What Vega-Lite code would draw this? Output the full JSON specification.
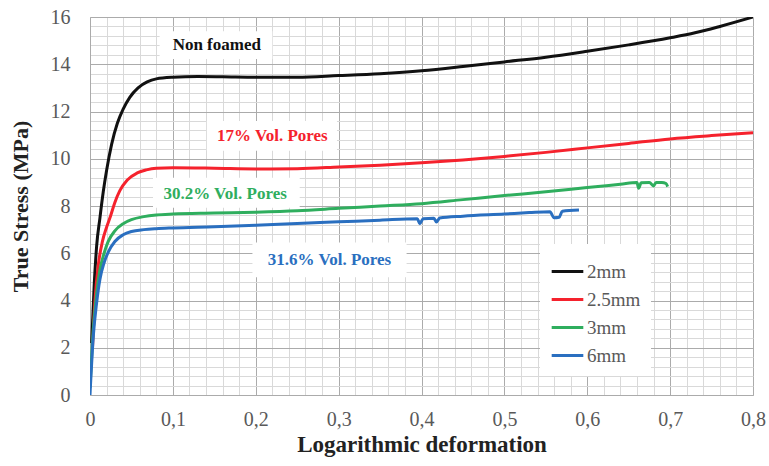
{
  "$schema": "https://vega.github.io/schema/vega-lite/v6.json",
  "width": 663,
  "height": 378,
  "autosize": {"type": "none"},
  "padding": {"left": 90, "top": 17, "right": 16, "bottom": 71},
  "background": "white",
  "config": {
    "view": {"stroke": null},
    "font": "Liberation Serif"
  },
  "datasets": {
    "curves": [
      {"series": "2mm", "strain": 0.002, "stress": 2.2},
      {"series": "2mm", "strain": 0.005, "stress": 4.6},
      {"series": "2mm", "strain": 0.008, "stress": 6.3},
      {"series": "2mm", "strain": 0.012, "stress": 7.5},
      {"series": "2mm", "strain": 0.016, "stress": 8.6},
      {"series": "2mm", "strain": 0.02, "stress": 9.5},
      {"series": "2mm", "strain": 0.026, "stress": 10.6},
      {"series": "2mm", "strain": 0.033, "stress": 11.5},
      {"series": "2mm", "strain": 0.04, "stress": 12.1},
      {"series": "2mm", "strain": 0.048, "stress": 12.6},
      {"series": "2mm", "strain": 0.058, "stress": 13.0},
      {"series": "2mm", "strain": 0.069, "stress": 13.25},
      {"series": "2mm", "strain": 0.08, "stress": 13.38},
      {"series": "2mm", "strain": 0.1, "stress": 13.45},
      {"series": "2mm", "strain": 0.13, "stress": 13.48},
      {"series": "2mm", "strain": 0.16, "stress": 13.47},
      {"series": "2mm", "strain": 0.2, "stress": 13.45},
      {"series": "2mm", "strain": 0.25, "stress": 13.45},
      {"series": "2mm", "strain": 0.3, "stress": 13.52},
      {"series": "2mm", "strain": 0.35, "stress": 13.6},
      {"series": "2mm", "strain": 0.4, "stress": 13.72},
      {"series": "2mm", "strain": 0.45, "stress": 13.9},
      {"series": "2mm", "strain": 0.5, "stress": 14.1},
      {"series": "2mm", "strain": 0.55, "stress": 14.3},
      {"series": "2mm", "strain": 0.6, "stress": 14.55},
      {"series": "2mm", "strain": 0.65, "stress": 14.82},
      {"series": "2mm", "strain": 0.7, "stress": 15.12},
      {"series": "2mm", "strain": 0.73, "stress": 15.33},
      {"series": "2mm", "strain": 0.76, "stress": 15.6},
      {"series": "2mm", "strain": 0.8, "stress": 16.0},
      {"series": "2.5mm", "strain": 0.003, "stress": 2.0},
      {"series": "2.5mm", "strain": 0.006, "stress": 4.0},
      {"series": "2.5mm", "strain": 0.01, "stress": 5.5},
      {"series": "2.5mm", "strain": 0.015, "stress": 6.5},
      {"series": "2.5mm", "strain": 0.02, "stress": 7.1},
      {"series": "2.5mm", "strain": 0.025, "stress": 7.6},
      {"series": "2.5mm", "strain": 0.03, "stress": 8.15},
      {"series": "2.5mm", "strain": 0.036, "stress": 8.65},
      {"series": "2.5mm", "strain": 0.045, "stress": 9.1},
      {"series": "2.5mm", "strain": 0.057, "stress": 9.4},
      {"series": "2.5mm", "strain": 0.068, "stress": 9.53},
      {"series": "2.5mm", "strain": 0.08, "stress": 9.6},
      {"series": "2.5mm", "strain": 0.1, "stress": 9.62},
      {"series": "2.5mm", "strain": 0.15, "stress": 9.6},
      {"series": "2.5mm", "strain": 0.2, "stress": 9.57},
      {"series": "2.5mm", "strain": 0.25, "stress": 9.58},
      {"series": "2.5mm", "strain": 0.3, "stress": 9.65},
      {"series": "2.5mm", "strain": 0.35, "stress": 9.73},
      {"series": "2.5mm", "strain": 0.4, "stress": 9.83},
      {"series": "2.5mm", "strain": 0.45, "stress": 9.95},
      {"series": "2.5mm", "strain": 0.5, "stress": 10.1},
      {"series": "2.5mm", "strain": 0.55, "stress": 10.27},
      {"series": "2.5mm", "strain": 0.6, "stress": 10.46},
      {"series": "2.5mm", "strain": 0.65, "stress": 10.65},
      {"series": "2.5mm", "strain": 0.7, "stress": 10.84},
      {"series": "2.5mm", "strain": 0.75, "stress": 10.98},
      {"series": "2.5mm", "strain": 0.8, "stress": 11.1},
      {"series": "3mm", "strain": 0.0, "stress": 0.3},
      {"series": "3mm", "strain": 0.004, "stress": 2.8},
      {"series": "3mm", "strain": 0.008, "stress": 4.3},
      {"series": "3mm", "strain": 0.012, "stress": 5.3},
      {"series": "3mm", "strain": 0.017, "stress": 6.0},
      {"series": "3mm", "strain": 0.022, "stress": 6.5},
      {"series": "3mm", "strain": 0.03, "stress": 6.95},
      {"series": "3mm", "strain": 0.04, "stress": 7.25},
      {"series": "3mm", "strain": 0.05, "stress": 7.42},
      {"series": "3mm", "strain": 0.065, "stress": 7.55},
      {"series": "3mm", "strain": 0.08, "stress": 7.62},
      {"series": "3mm", "strain": 0.1, "stress": 7.66},
      {"series": "3mm", "strain": 0.15, "stress": 7.7},
      {"series": "3mm", "strain": 0.2, "stress": 7.74},
      {"series": "3mm", "strain": 0.25, "stress": 7.8},
      {"series": "3mm", "strain": 0.3, "stress": 7.9},
      {"series": "3mm", "strain": 0.35, "stress": 8.0},
      {"series": "3mm", "strain": 0.4, "stress": 8.1},
      {"series": "3mm", "strain": 0.45, "stress": 8.27},
      {"series": "3mm", "strain": 0.5, "stress": 8.44},
      {"series": "3mm", "strain": 0.55, "stress": 8.6},
      {"series": "3mm", "strain": 0.6, "stress": 8.78},
      {"series": "3mm", "strain": 0.64, "stress": 8.92},
      {"series": "3mm", "strain": 0.66, "stress": 8.99},
      {"series": "3mm", "strain": 0.662, "stress": 8.75},
      {"series": "3mm", "strain": 0.665, "stress": 8.98},
      {"series": "3mm", "strain": 0.675, "stress": 9.0},
      {"series": "3mm", "strain": 0.68, "stress": 8.85},
      {"series": "3mm", "strain": 0.683, "stress": 9.0},
      {"series": "3mm", "strain": 0.69, "stress": 9.0},
      {"series": "3mm", "strain": 0.695, "stress": 8.95},
      {"series": "3mm", "strain": 0.697, "stress": 8.82},
      {"series": "6mm", "strain": 0.0, "stress": 0.0},
      {"series": "6mm", "strain": 0.004, "stress": 2.5},
      {"series": "6mm", "strain": 0.008, "stress": 3.9},
      {"series": "6mm", "strain": 0.012, "stress": 4.9},
      {"series": "6mm", "strain": 0.017, "stress": 5.6},
      {"series": "6mm", "strain": 0.022, "stress": 6.05},
      {"series": "6mm", "strain": 0.03, "stress": 6.5},
      {"series": "6mm", "strain": 0.04, "stress": 6.78},
      {"series": "6mm", "strain": 0.05, "stress": 6.92},
      {"series": "6mm", "strain": 0.065, "stress": 7.0},
      {"series": "6mm", "strain": 0.08, "stress": 7.04},
      {"series": "6mm", "strain": 0.1, "stress": 7.07},
      {"series": "6mm", "strain": 0.15, "stress": 7.12},
      {"series": "6mm", "strain": 0.2, "stress": 7.18},
      {"series": "6mm", "strain": 0.25, "stress": 7.26},
      {"series": "6mm", "strain": 0.3, "stress": 7.33},
      {"series": "6mm", "strain": 0.35, "stress": 7.4},
      {"series": "6mm", "strain": 0.395, "stress": 7.46},
      {"series": "6mm", "strain": 0.398, "stress": 7.25},
      {"series": "6mm", "strain": 0.402, "stress": 7.46},
      {"series": "6mm", "strain": 0.415, "stress": 7.48},
      {"series": "6mm", "strain": 0.418, "stress": 7.32},
      {"series": "6mm", "strain": 0.422, "stress": 7.49},
      {"series": "6mm", "strain": 0.45, "stress": 7.57},
      {"series": "6mm", "strain": 0.5, "stress": 7.66},
      {"series": "6mm", "strain": 0.53, "stress": 7.72},
      {"series": "6mm", "strain": 0.555, "stress": 7.76},
      {"series": "6mm", "strain": 0.56, "stress": 7.5},
      {"series": "6mm", "strain": 0.566, "stress": 7.52},
      {"series": "6mm", "strain": 0.57, "stress": 7.78},
      {"series": "6mm", "strain": 0.59, "stress": 7.83}
    ],
    "labels": [
      {"series": "2mm", "text": "Non foamed", "x": 0.153, "y": 14.81, "x1": 0.084, "x2": 0.22, "y1": 14.22, "y2": 15.4},
      {"series": "2.5mm", "text": "17% Vol. Pores", "x": 0.22, "y": 10.97, "x1": 0.141, "x2": 0.298, "y1": 10.34, "y2": 11.6},
      {"series": "3mm", "text": "30.2% Vol. Pores", "x": 0.163, "y": 8.52, "x1": 0.076, "x2": 0.253, "y1": 7.93, "y2": 9.2},
      {"series": "6mm", "text": "31.6% Vol. Pores", "x": 0.289, "y": 5.7, "x1": 0.196, "x2": 0.382, "y1": 4.98, "y2": 6.46}
    ]
  },
  "resolve": {"axis": {"x": "independent", "y": "independent"}},
  "layer": [
    {
      "data": {"name": "curves"},
      "mark": {"type": "point", "opacity": 0},
      "encoding": {
        "x": {
          "field": "strain", "type": "quantitative",
          "scale": {"domain": [0, 0.8], "nice": false, "zero": false},
          "axis": {
            "orient": "bottom",
            "values": [0.02,0.04,0.06,0.08,0.12,0.14,0.16,0.18,0.22,0.24,0.26,0.28,0.32,0.34,0.36,0.38,0.42,0.44,0.46,0.48,0.52,0.54,0.56,0.58,0.62,0.64,0.66,0.68,0.72,0.74,0.76,0.78],
            "grid": true, "gridColor": "#d9d9d9", "gridWidth": 1,
            "labels": false, "ticks": false, "domain": false, "title": null
          }
        },
        "y": {
          "field": "stress", "type": "quantitative",
          "scale": {"domain": [0, 16], "nice": false},
          "axis": {
            "orient": "left",
            "values": [0.4,0.8,1.2,1.6,2.4,2.8,3.2,3.6,4.4,4.8,5.2,5.6,6.4,6.8,7.2,7.6,8.4,8.8,9.2,9.6,10.4,10.8,11.2,11.6,12.4,12.8,13.2,13.6,14.4,14.8,15.2,15.6],
            "grid": true, "gridColor": "#d9d9d9", "gridWidth": 1,
            "labels": false, "ticks": false, "domain": false, "title": null
          }
        }
      }
    },
    {
      "data": {"name": "labels"},
      "mark": {"type": "rect", "fill": "white"},
      "encoding": {
        "x": {"field": "x1", "type": "quantitative", "axis": null},
        "x2": {"field": "x2"},
        "y": {"field": "y1", "type": "quantitative", "axis": null},
        "y2": {"field": "y2"}
      }
    },
    {
      "data": {"name": "curves"},
      "mark": {"type": "line", "strokeWidth": 3, "interpolate": "monotone", "clip": true},
      "encoding": {
        "x": {
          "field": "strain", "type": "quantitative",
          "axis": {
            "orient": "bottom",
            "values": [0, 0.1, 0.2, 0.3, 0.4, 0.5, 0.6, 0.7, 0.8],
            "labelExpr": "replace(format(datum.value, '.1~f'), '.', ',')",
            "grid": true, "gridColor": "#ababab", "gridWidth": 1,
            "ticks": false, "domain": true, "domainColor": "#ababab",
            "labelFont": "Liberation Serif", "labelFontSize": 20, "labelColor": "#595959",
            "labelPadding": 14, "labelFlush": false, "labelOverlap": false,
            "title": "Logarithmic deformation",
            "titleFont": "Liberation Serif", "titleFontSize": 23, "titleFontWeight": "bold", "titleColor": "#222222",
            "titlePadding": 4
          }
        },
        "y": {
          "field": "stress", "type": "quantitative",
          "axis": {
            "orient": "left",
            "values": [0, 2, 4, 6, 8, 10, 12, 14, 16],
            "grid": true, "gridColor": "#ababab", "gridWidth": 1,
            "ticks": false, "domain": true, "domainColor": "#ababab",
            "labelFont": "Liberation Serif", "labelFontSize": 20, "labelColor": "#595959",
            "labelPadding": 20, "labelFlush": false, "labelOverlap": false,
            "title": "True Stress (MPa)",
            "titleFont": "Liberation Serif", "titleFontSize": 22, "titleFontWeight": "bold", "titleColor": "#222222",
            "titlePadding": 18
          }
        },
        "color": {
          "field": "series", "type": "nominal",
          "scale": {"domain": ["2mm", "2.5mm", "3mm", "6mm"], "range": ["#111111", "#f5222d", "#2fae5e", "#2a6fc0"]},
          "legend": {
            "orient": "none", "legendX": 450, "legendY": 227,
            "title": null, "fillColor": "white", "padding": 10,
            "symbolType": "stroke", "symbolStrokeWidth": 3, "symbolSize": 1000,
            "labelFont": "Liberation Serif", "labelFontSize": 19, "labelColor": "#595959",
            "labelOffset": 2, "rowPadding": 0
          }
        }
      }
    },
    {
      "data": {"name": "labels"},
      "mark": {"type": "text", "fontWeight": "bold", "fontSize": 17, "font": "Liberation Serif"},
      "encoding": {
        "x": {"field": "x", "type": "quantitative", "axis": null},
        "y": {"field": "y", "type": "quantitative", "axis": null},
        "text": {"field": "text"},
        "color": {"field": "series", "type": "nominal", "legend": null}
      }
    }
  ]
}
